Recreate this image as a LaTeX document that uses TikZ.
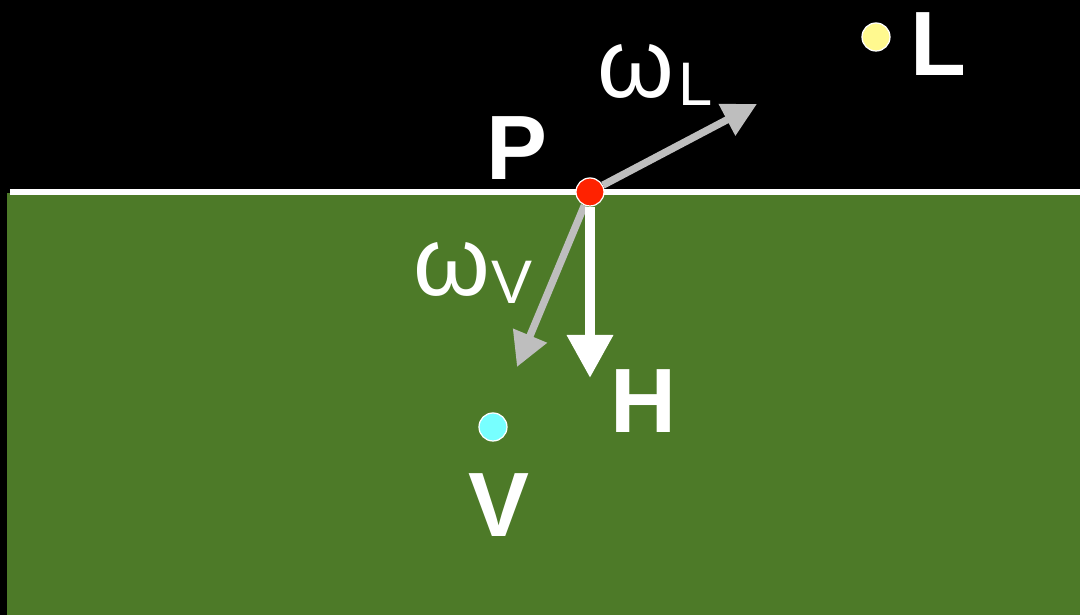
\documentclass[tikz,border=0pt]{standalone}
\usepackage{fontspec}
\setmainfont{Liberation Sans}
\definecolor{sGround}{HTML}{4D7A28}
\definecolor{sRayGray}{HTML}{BEBEBE}
\definecolor{sPointRed}{HTML}{FF2200}
\definecolor{sLightYellow}{HTML}{FFF98F}
\definecolor{sViewCyan}{HTML}{77FFFF}
\usetikzlibrary{arrows.meta}

\begin{document}
\begin{tikzpicture}[x=0.1mm, y=-0.1mm,
  dot/.style={circle, draw=white, line width=0.35pt, inner sep=0pt, minimum size=2.8mm},
  bigletter/.style={inner sep=0pt, text=white, font=\fontsize{26}{26}\selectfont\bfseries},
  omegalabel/.style={inner sep=0pt, text=white, font=\fontsize{28}{28}\selectfont}]
\useasboundingbox (0,0) rectangle (1080,615);
\fill[black] (0,0) rectangle (1080,615);
\fill[sGround] (7,193) rectangle (1080,615);
\draw[white, line width=1.7pt] (10,192) -- (1080,192);
% points
\node[dot, fill=sPointRed] (P) at (590,192) {};
\node[dot, fill=sLightYellow] (L) at (876,37) {};
\node[dot, fill=sViewCyan] (V) at (493,427) {};
\coordinate (WL) at (757,104); \coordinate (WV) at (517,367); \coordinate (Hend) at (590,378);
\draw[-{Triangle[length=3.4mm, width=3.4mm]}, sRayGray, line width=2.1pt] (P)--(WL);
\draw[-{Triangle[length=3.4mm, width=3.5mm]}, sRayGray, line width=2.1pt] (P)--(WV);
\draw[-{Triangle[length=4.3mm, width=4.4mm]}, white, line width=2.8pt] (P)--(Hend);
% labels
\node[bigletter] (Plab) at (517,148) {P};
\node[bigletter] (Llab) at (938,44) {L};
\node[bigletter] (Hlab) at (643,401) {H};
\node[bigletter] (Vlab) at (499,505) {V};
\node[omegalabel] (WLlab) at (655,75) {ω\kern1pt\raisebox{-2pt}{\fontsize{17.5}{17.5}\selectfont L}};
\node[omegalabel] (WVlab) at (473,273) {ω\kern0.5pt\raisebox{-2.5pt}{\fontsize{17.5}{17.5}\selectfont V}};
\end{tikzpicture}
\end{document}
